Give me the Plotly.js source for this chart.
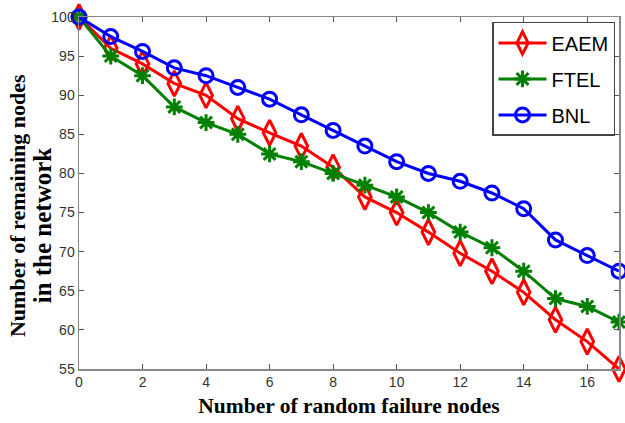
<!DOCTYPE html>
<html><head><meta charset="utf-8">
<script src="https://cdn.plot.ly/plotly-3.0.1.min.js"></script>
<style>body{margin:0;background:#fff}#c{width:625px;height:423px}</style>
</head><body><div id="c"></div>
<script>
const xs = [0,1,2,3,4,5,6,7,8,9,10,11,12,13,14,15,16,17];
const eaem = [100,96,94,91.5,90,87,85.2,83.5,80.8,77,75,72.5,69.8,67.5,64.8,61.3,58.5,55];
const ftel = [100,95,92.5,88.5,86.5,85,82.5,81.5,80,78.5,77,75,72.5,70.5,67.5,64,63,61];
const bnl  = [100,97.5,95.6,93.5,92.5,91,89.5,87.5,85.5,83.5,81.5,80,79,77.5,75.5,71.5,69.5,67.5];
const names = ['EAEM','FTEL','BNL'];
const xTicks = [0,2,4,6,8,10,12,14,16];
const yTicks = [55,60,65,70,75,80,85,90,95,100];
const yTitle1 = 'Number of remaining nodes';
const yTitle2 = 'in the network';
const xTitle = 'Number of random failure nodes';

function tr(y, name, color, symbol, size, grp){
  return {x: xs, y: y, name: name, legendgroup: grp, type:'scatter', mode:'lines+markers', cliponaxis:false,
    line:{color:color, width:3},
    marker:{symbol:symbol, size:size, color:color, line:{color:color, width:3}}};
}
const data = [
  tr(eaem, names[0], '#ff0000', 'diamond-tall-open', 18, 'a'),
  tr(ftel, names[1], '#008000', 'asterisk-open', 14, 'b'),
  tr(bnl, names[2], '#0000ff', 'circle-open', 14, 'c')
];
const ax = {showgrid:false, zeroline:false, showline:true, linecolor:'#888', linewidth:1.5, mirror:'ticks',
  ticks:'inside', ticklen:5, tickcolor:'#555', tickfont:{family:'Arial, Liberation Sans', size:14, color:'#333'}};
const tfont = {family:'Times New Roman, Liberation Serif', size:22, color:'#000', weight:'bold'};
const tfont2 = {family:'Times New Roman, Liberation Serif', size:25, color:'#000', weight:'bold'};
const layout = {
  width:625, height:423, margin:{l:79, r:6, t:17, b:54}, paper_bgcolor:'#fff', plot_bgcolor:'#fff',
  showlegend:true,
  legend:{x:0.9926, y:0.986, xanchor:'right', yanchor:'top', bgcolor:'#fff', bordercolor:'#444', borderwidth:1.5,
    font:{family:'Arial, Liberation Sans', size:20, color:'#000'}, tracegroupgap:7, itemwidth:48},
  xaxis: Object.assign({}, ax, {range:[0,17], tickvals:xTicks,
    title:{text:xTitle, standoff:8, font:{family:'Times New Roman, Liberation Serif', size:21.5, color:'#000', weight:'bold'}}}),
  yaxis: Object.assign({}, ax, {range:[55,100], tickvals:yTicks}),
  annotations:[
    {text:yTitle1, xref:'paper', yref:'paper', x:-0.1148, y:0.463, textangle:-90, showarrow:false, font:tfont, xanchor:'center', yanchor:'middle'},
    {text:yTitle2, xref:'paper', yref:'paper', x:-0.068, y:0.409, textangle:-90, showarrow:false, font:tfont2, xanchor:'center', yanchor:'middle'}
  ]
};
Plotly.newPlot('c', data, layout, {displayModeBar:false, staticPlot:true});
</script></body></html>
